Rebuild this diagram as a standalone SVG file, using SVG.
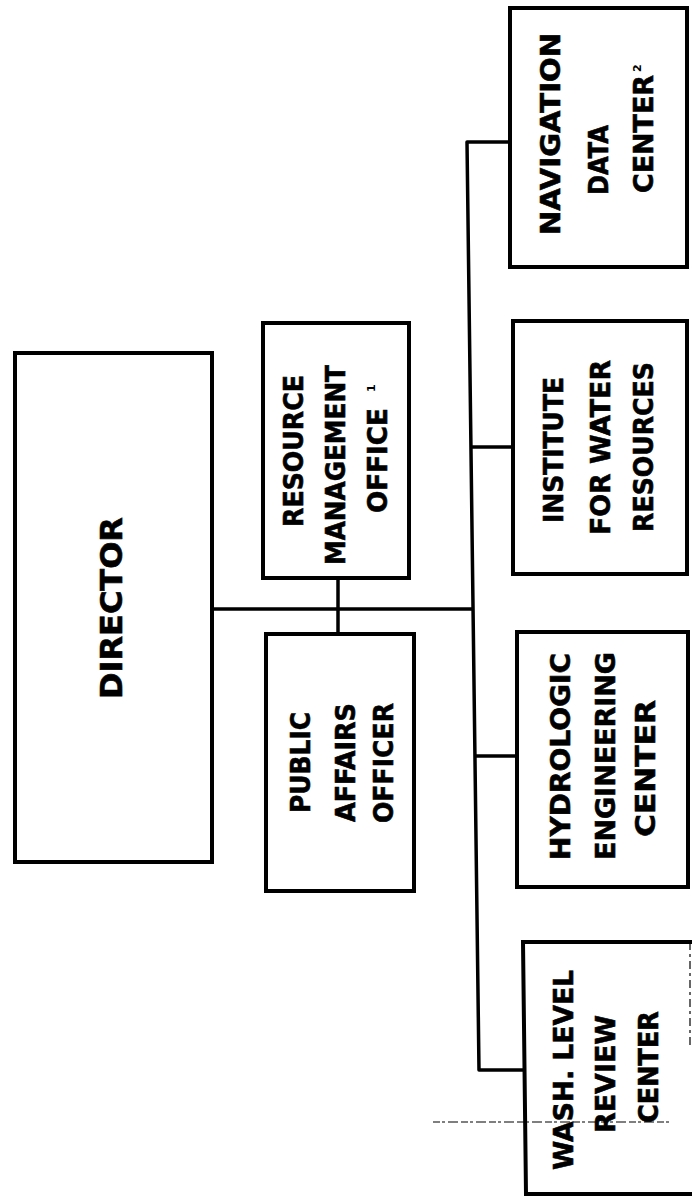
<svg xmlns="http://www.w3.org/2000/svg" width="692" height="1197" viewBox="0 0 692 1197">
<style>
.box{fill:#fff;stroke:#000;stroke-width:4}
.conn{fill:none;stroke:#000;stroke-width:3.5;stroke-linejoin:round}
.lbl{font-family:"DejaVu Sans","Liberation Sans",sans-serif;font-weight:bold;font-size:27px;fill:#000;stroke:#000;stroke-width:0.6}
.big{font-size:30px}
.sup{font-family:"DejaVu Sans","Liberation Sans",sans-serif;font-weight:bold;font-size:11px;fill:#000}
</style>
<rect width="692" height="1197" fill="#fff"/>
<g id="connectors">
<path class="conn" d="M510,142 L467,142 L479,1070 L523,1070"/>
<path class="conn" d="M213,609 L473,609"/>
<path class="conn" d="M338,578 L338,634"/>
<path class="conn" d="M471,447 L513,447"/>
<path class="conn" d="M475,756 L517,756"/>
</g>
<g id="director">
<rect class="box" x="15" y="353" width="197" height="509"/>
<text class="lbl big" transform="translate(122,699) rotate(-90)" textLength="182" lengthAdjust="spacingAndGlyphs">DIRECTOR</text>
</g>
<g id="resource-management-office">
<rect class="box" x="263" y="323" width="146" height="255"/>
<text class="lbl" transform="translate(303,527) rotate(-90)" textLength="152" lengthAdjust="spacingAndGlyphs">RESOURCE</text>
<text class="lbl" transform="translate(345,565) rotate(-90)" textLength="200" lengthAdjust="spacingAndGlyphs">MANAGEMENT</text>
<text class="lbl" transform="translate(387,513) rotate(-90)" textLength="105" lengthAdjust="spacingAndGlyphs">OFFICE</text>
<text class="sup" transform="translate(375,392) rotate(-90)">1</text>
</g>
<g id="public-affairs-officer">
<rect class="box" x="266" y="634" width="148" height="257"/>
<text class="lbl" transform="translate(310,813) rotate(-90)" textLength="101" lengthAdjust="spacingAndGlyphs">PUBLIC</text>
<text class="lbl" transform="translate(355,822) rotate(-90)" textLength="119" lengthAdjust="spacingAndGlyphs">AFFAIRS</text>
<text class="lbl" transform="translate(393,823) rotate(-90)" textLength="120" lengthAdjust="spacingAndGlyphs">OFFICER</text>
</g>
<g id="navigation-data-center">
<rect class="box" x="510" y="8" width="177" height="259"/>
<text class="lbl" transform="translate(560,235) rotate(-90)" textLength="202" lengthAdjust="spacingAndGlyphs">NAVIGATION</text>
<text class="lbl" transform="translate(608,195) rotate(-90)" textLength="70" lengthAdjust="spacingAndGlyphs">DATA</text>
<text class="lbl" transform="translate(653,193) rotate(-90)" textLength="118" lengthAdjust="spacingAndGlyphs">CENTER</text>
<text class="sup" transform="translate(641,72) rotate(-90)">2</text>
</g>
<g id="institute-for-water-resources">
<rect class="box" x="513" y="321" width="174" height="253"/>
<text class="lbl" transform="translate(563,523) rotate(-90)" textLength="146" lengthAdjust="spacingAndGlyphs">INSTITUTE</text>
<text class="lbl" transform="translate(610,535) rotate(-90)" textLength="175" lengthAdjust="spacingAndGlyphs">FOR WATER</text>
<text class="lbl" transform="translate(653,532) rotate(-90)" textLength="170" lengthAdjust="spacingAndGlyphs">RESOURCES</text>
</g>
<g id="hydrologic-engineering-center">
<rect class="box" x="517" y="632" width="171" height="255"/>
<text class="lbl" transform="translate(570,860) rotate(-90)" textLength="207" lengthAdjust="spacingAndGlyphs">HYDROLOGIC</text>
<text class="lbl" transform="translate(615,860) rotate(-90)" textLength="208" lengthAdjust="spacingAndGlyphs">ENGINEERING</text>
<text class="lbl" transform="translate(655,837) rotate(-90)" textLength="137" lengthAdjust="spacingAndGlyphs">CENTER</text>
</g>
<g id="wash-level-review-center">
<path class="box" d="M692,942 L523,942 L526,1194 L692,1194"/>
<line x1="690" y1="942" x2="690" y2="1045" stroke="#000" stroke-width="1.2" stroke-dasharray="8 4 3 4"/>
<text class="lbl" transform="translate(573,1170) rotate(-90)" textLength="200" lengthAdjust="spacingAndGlyphs">WASH. LEVEL</text>
<text class="lbl" transform="translate(615,1133) rotate(-90)" textLength="118" lengthAdjust="spacingAndGlyphs">REVIEW</text>
<text class="lbl" transform="translate(658,1123) rotate(-90)" textLength="112" lengthAdjust="spacingAndGlyphs">CENTER</text>
</g>
<line x1="433" y1="1122" x2="671" y2="1122" stroke="#000" stroke-width="1.2" stroke-dasharray="7 2 3 3 10 3"/>
</svg>
